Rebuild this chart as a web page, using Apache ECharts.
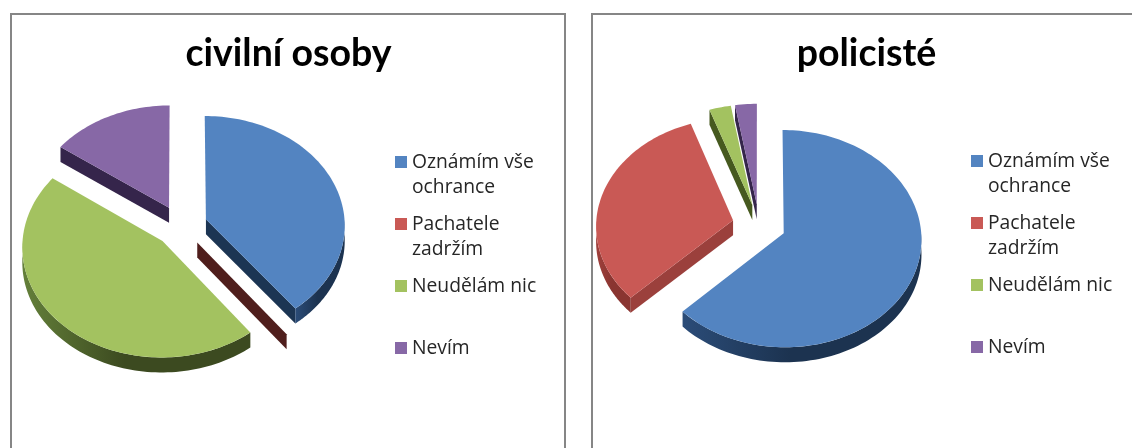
<!DOCTYPE html>
<html><head><meta charset="utf-8">
<style>html,body{margin:0;padding:0;background:#fff}#c{width:1132px;height:448px}</style>
<script src="https://cdn.jsdelivr.net/npm/echarts@6/dist/echarts.min.js"></script>
</head><body><div id="c"></div>
<script>
const categories = ['Oznámím vše\nochrance', 'Pachatele\nzadržím', 'Neudělám nic', 'Nevím'];
const civilian = [39.5, 0.1, 45.3, 15.1];
const police = [62.7, 31.9, 2.7, 2.7];
const titles = ['civilní osoby', 'policisté'];
const tops = ['#5384c1', '#c95955', '#a3c260', '#8768a6'];
const outerLight = ['#2b4c78', '#a0403c', '#64803a', '#4a3a66'];
const outerDark = ['#1c3350', '#8a3531', '#3c4a20', '#35254b'];
const cutWalls = [['#1c3553', '#4f1e1c', '#46591f', '#35254b'], ['#1c3553', '#9b403c', '#46591f', '#35254b']];
const values = [civilian, police];
const pies = [
  {cx: 181, cy: 226, R: 139, k: 0.785, d: 20, m: 0.19, h: 15},
  {cx: 759, cy: 225, R: 137, k: 0.785, d: 20, m: 0.195, h: 15}
];
const rad = Math.PI / 180;

function sliceSpan(pieIdx, catIdx) {
  const vals = values[pieIdx], sum = vals.reduce((a, b) => a + b, 0);
  let start = 0;
  for (let i = 0; i < catIdx; i++) start += vals[i];
  return [start / sum * 360, (start + vals[catIdx]) / sum * 360];
}
function renderItem(params, api) {
  const pieIdx = params.dataIndex, catIdx = params.seriesIndex, P = pies[pieIdx];
  const span = sliceSpan(pieIdx, catIdx), a0 = span[0], a1 = span[1], mid = (a0 + a1) / 2 * rad;
  const ox = P.m * Math.sin(mid), oy = P.m * Math.cos(mid);
  const proj = (u, v) => {
    const p = P.d / (P.d + v);
    return [P.cx + P.R * u * p, P.cy - P.R * P.k * v * p];
  };
  const rim = a => proj(ox + Math.sin(a * rad), oy + Math.cos(a * rad));
  const apex = proj(ox, oy);
  const down = pt => [pt[0], pt[1] + P.h];
  const children = [];
  const poly = (points, fill) => children.push({type: 'polygon', shape: {points}, style: {fill}});
  const visibleFace = a1 - a0 > 1;
  // cut faces turned toward the viewer
  if (Math.cos((a0 - 90) * rad) < -0.001) {
    const e = rim(a0);
    poly([apex, e, down(e), down(apex)], cutWalls[pieIdx][catIdx]);
  }
  if (Math.cos((a1 + 90) * rad) < -0.001) {
    const e = rim(a1);
    poly([apex, e, down(e), down(apex)], cutWalls[pieIdx][catIdx]);
  }
  // outer wall
  const w0 = Math.max(a0, 90), w1 = Math.min(a1, 270);
  if (w1 > w0 && visibleFace) {
    const upper = [], lower = [];
    for (let a = w0; a <= w1 + 1e-6; a += Math.max((w1 - w0) / 80, 0.05)) {
      const pt = rim(a);
      upper.push(pt);
      lower.unshift(down(pt));
    }
    poly(upper.concat(lower), new echarts.graphic.LinearGradient(1, 0, 0, 0, [
      {offset: 0, color: outerDark[catIdx]},
      {offset: 0.55, color: outerDark[catIdx]},
      {offset: 1, color: outerLight[catIdx]}
    ]));
  }
  // top face
  const face = [apex];
  const n = Math.max(2, Math.ceil((a1 - a0) / 1.5));
  for (let i = 0; i <= n; i++) face.push(rim(a0 + (a1 - a0) * i / n));
  if (visibleFace) poly(face, tops[catIdx]);
  return {type: 'group', children};
}
const series = categories.map((name, i) => ({
  type: 'custom',
  name,
  coordinateSystem: 'none',
  silent: true,
  animation: false,
  clip: false,
  itemStyle: {color: tops[i]},
  renderItem,
  data: values.map(v => [v[i]])
}));
// Square in the upper part of a tall item so that it lines up with the first text line
const markerIcon = 'path://M0 0L0 0M0 6L12 6L12 18L0 18ZM12 50L12 50';
const legendBase = {
  orient: 'vertical', icon: markerIcon, itemWidth: 12, itemHeight: 50, itemGap: 12,
  selectedMode: false, padding: 0,
  data: categories,
  formatter: n => n.indexOf('\n') >= 0 ? n : n + '\n ',
  textStyle: {fontFamily: 'Open Sans', fontSize: 19.3, lineHeight: 25, color: '#262626'}
};
const titleStyle = {fontFamily: 'Lato', fontWeight: 'bold', fontSize: 37.5, color: '#000'};
const chart = echarts.init(document.getElementById('c'), null, {renderer: 'canvas'});
chart.setOption({
  animation: false,
  backgroundColor: '#fff',
  title: [
    {text: titles[0], left: 283.5, top: 30, textAlign: 'center', textStyle: titleStyle},
    {text: titles[1], left: 861.5, top: 30, textAlign: 'center', textStyle: titleStyle}
  ],
  legend: [
    Object.assign({}, legendBase, {left: 395, top: 150}),
    Object.assign({}, legendBase, {left: 971, top: 149})
  ],
  graphic: [
    {type: 'rect', silent: true, z: -1, shape: {x: 11, y: 14, width: 554, height: 460}, style: {fill: '#fff', stroke: '#868686', lineWidth: 2}},
    {type: 'rect', silent: true, z: -1, shape: {x: 592, y: 14, width: 560, height: 460}, style: {fill: '#fff', stroke: '#868686', lineWidth: 2}}
  ],
  series
});
</script></body></html>
